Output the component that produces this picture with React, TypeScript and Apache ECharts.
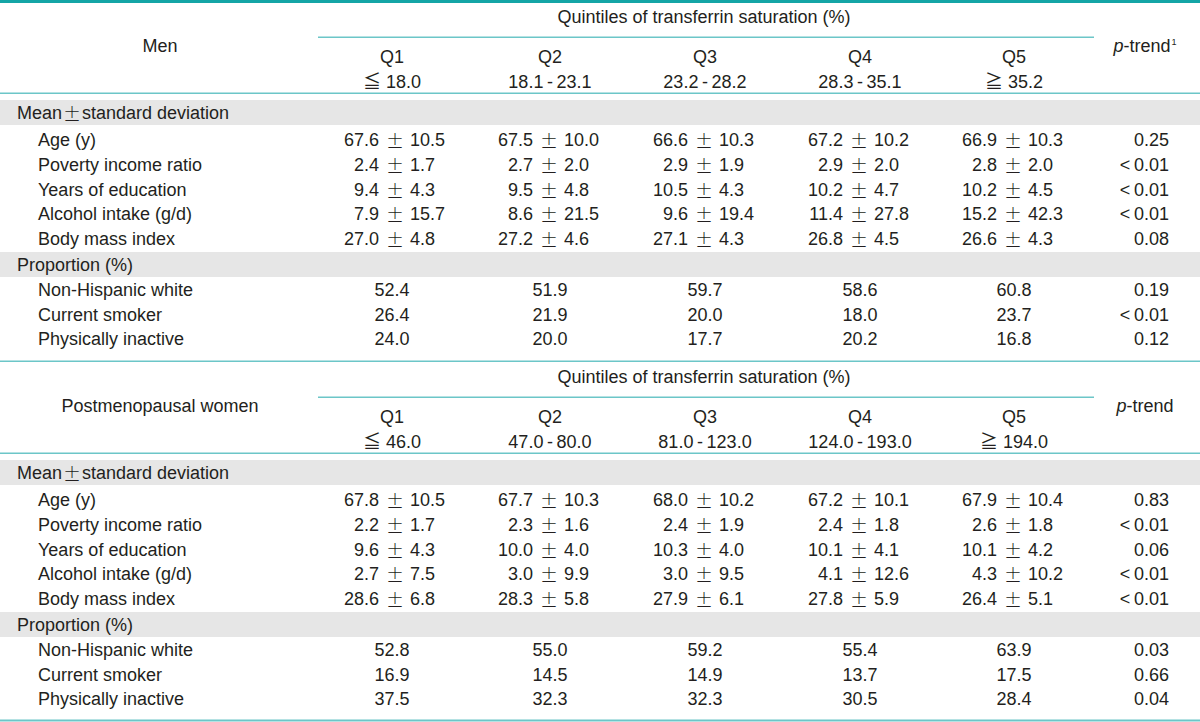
import React, { useEffect, useRef } from "react";
import * as echarts from "echarts";

const quintiles = ["Q1", "Q2", "Q3", "Q4", "Q5"];
const menRanges = ["≦ 18.0", "18.1\u2009-\u200923.1", "23.2\u2009-\u200928.2", "28.3\u2009-\u200935.1", "≧ 35.2"];
const womenRanges = ["≦ 46.0", "47.0\u2009-\u200980.0", "81.0\u2009-\u2009123.0", "124.0\u2009-\u2009193.0", "≧ 194.0"];
const meanRowLabels = ["Age (y)", "Poverty income ratio", "Years of education", "Alcohol intake (g/d)", "Body mass index"];
const propRowLabels = ["Non-Hispanic white", "Current smoker", "Physically inactive"];

const menMeans = [
  [67.6, 67.5, 66.6, 67.2, 66.9],
  [2.4, 2.7, 2.9, 2.9, 2.8],
  [9.4, 9.5, 10.5, 10.2, 10.2],
  [7.9, 8.6, 9.6, 11.4, 15.2],
  [27.0, 27.2, 27.1, 26.8, 26.6],
];
const menSDs = [
  [10.5, 10.0, 10.3, 10.2, 10.3],
  [1.7, 2.0, 1.9, 2.0, 2.0],
  [4.3, 4.8, 4.3, 4.7, 4.5],
  [15.7, 21.5, 19.4, 27.8, 42.3],
  [4.8, 4.6, 4.3, 4.5, 4.3],
];
const menMeanP = ["0.25", "<\u20090.01", "<\u20090.01", "<\u20090.01", "0.08"];
const menProps = [
  [52.4, 51.9, 59.7, 58.6, 60.8],
  [26.4, 21.9, 20.0, 18.0, 23.7],
  [24.0, 20.0, 17.7, 20.2, 16.8],
];
const menPropP = ["0.19", "<\u20090.01", "0.12"];

const womenMeans = [
  [67.8, 67.7, 68.0, 67.2, 67.9],
  [2.2, 2.3, 2.4, 2.4, 2.6],
  [9.6, 10.0, 10.3, 10.1, 10.1],
  [2.7, 3.0, 3.0, 4.1, 4.3],
  [28.6, 28.3, 27.9, 27.8, 26.4],
];
const womenSDs = [
  [10.5, 10.3, 10.2, 10.1, 10.4],
  [1.7, 1.6, 1.9, 1.8, 1.8],
  [4.3, 4.0, 4.0, 4.1, 4.2],
  [7.5, 9.9, 9.5, 12.6, 10.2],
  [6.8, 5.8, 6.1, 5.9, 5.1],
];
const womenMeanP = ["0.83", "<\u20090.01", "0.06", "<\u20090.01", "<\u20090.01"];
const womenProps = [
  [52.8, 55.0, 59.2, 55.4, 63.9],
  [16.9, 14.5, 14.9, 13.7, 17.5],
  [37.5, 32.3, 32.3, 30.5, 28.4],
];
const womenPropP = ["0.03", "0.66", "0.04"];

const FONT = "Liberation Sans, Arial, Helvetica, Noto Sans CJK JP, sans-serif";
const CJK = "Noto Sans CJK JP, Liberation Sans, sans-serif";
const FS = 18;
const INK = "#231f20";
const TEAL_DARK = "#14a5a6";
const TEAL_LIGHT = "#6cc6c8";
const BAND = "#e6e6e6";

const colX = [392, 550, 705, 860, 1014];
const pmX = [395, 549, 704, 859, 1013];
const pRight = 1169;

function txt(x: number, y: number, text: string, align = "center", extra: any = {}) {
  return {
    type: "text",
    x,
    y,
    silent: true,
    style: {
      text,
      fill: INK,
      fontSize: FS,
      fontFamily: FONT,
      align,
      verticalAlign: "middle",
      ...extra,
    },
  };
}

function hline(x1: number, x2: number, y: number, h: number, color: string) {
  return { type: "rect", silent: true, shape: { x: x1, y, width: x2 - x1, height: h }, style: { fill: color } };
}

function buildSection(
  y0: number,
  title: string,
  ranges: string[],
  means: number[][],
  sds: number[][],
  meanP: string[],
  props: number[][],
  propP: string[],
  sup: boolean
) {
  const els: any[] = [];
  els.push(txt(704, y0 + 17, "Quintiles of transferrin saturation (%)"));
  els.push(hline(318, 1094, y0 + 36.5, 1.6, TEAL_LIGHT));
  els.push(txt(160, y0 + 46, title));
  els.push({
    type: "text",
    x: 1145,
    y: y0 + 46,
    silent: true,
    style: {
      text: sup ? "{i|p}-trend{s|1}" : "{i|p}-trend",
      fill: INK,
      fontSize: FS,
      fontFamily: FONT,
      align: "center",
      verticalAlign: "middle",
      rich: {
        i: { fontStyle: "italic", fontSize: FS, fontFamily: FONT, fill: INK },
        s: { fontSize: 9, fontFamily: FONT, fill: INK, verticalAlign: "top", padding: [0, 0, 8, 1] },
      },
    },
  });
  quintiles.forEach((q, i) => {
    els.push(txt(colX[i], y0 + 57, q));
    els.push(txt(colX[i], y0 + 81.5, ranges[i]));
  });
  els.push(hline(0, 1200, y0 + 92.5, 1.6, TEAL_LIGHT));
  els.push(hline(0, 1200, y0 + 100, 25, BAND));
  els.push({
    type: "text",
    x: 17,
    y: y0 + 113,
    silent: true,
    style: {
      text: "Mean{pm|±}standard deviation",
      fill: INK,
      fontSize: FS,
      fontFamily: FONT,
      align: "left",
      verticalAlign: "middle",
      rich: { pm: { fontFamily: CJK, fontSize: FS, fontWeight: 300, fill: INK, padding: [0, 1, 0, 1] } },
    },
  });
  meanRowLabels.forEach((lab, r) => {
    const y = y0 + 140 + r * 24.8;
    els.push(txt(38, y, lab, "left"));
    for (let c = 0; c < 5; c++) {
      els.push(txt(pmX[c] - 16, y, means[r][c].toFixed(1), "right"));
      els.push(txt(pmX[c], y, "±", "center", { fontFamily: CJK, fontWeight: 300 }));
      els.push(txt(pmX[c] + 15, y, sds[r][c].toFixed(1), "left"));
    }
    els.push(txt(pRight, y, meanP[r], "right"));
  });
  els.push(hline(0, 1200, y0 + 252, 25, BAND));
  els.push(txt(17, y0 + 264.5, "Proportion (%)", "left"));
  propRowLabels.forEach((lab, r) => {
    const y = y0 + 290 + r * 24.6;
    els.push(txt(38, y, lab, "left"));
    for (let c = 0; c < 5; c++) {
      els.push(txt(colX[c], y, props[r][c].toFixed(1)));
    }
    els.push(txt(pRight, y, propP[r], "right"));
  });
  return els;
}

export default function App() {
  const ref = useRef<HTMLDivElement>(null);
  useEffect(() => {
    document.body.style.margin = "0";
    const chart = echarts.init(ref.current!, null, { renderer: "svg", width: 1200, height: 722 });
    const elements = [
      hline(0, 1200, 0, 3, TEAL_DARK),
      ...buildSection(0, "Men", menRanges, menMeans, menSDs, menMeanP, menProps, menPropP, true),
      hline(0, 1200, 360.5, 1.6, TEAL_LIGHT),
      ...buildSection(360, "Postmenopausal women", womenRanges, womenMeans, womenSDs, womenMeanP, womenProps, womenPropP, false),
      hline(0, 1200, 719.5, 2, TEAL_LIGHT),
    ];
    chart.setOption({
      animation: false,
      backgroundColor: "#ffffff",
      graphic: { elements },
    });
    return () => chart.dispose();
  }, []);
  return (
    <div
      ref={ref}
      style={{ position: "fixed", left: 0, top: 0, width: 1200, height: 722, background: "#fff" }}
    />
  );
}
